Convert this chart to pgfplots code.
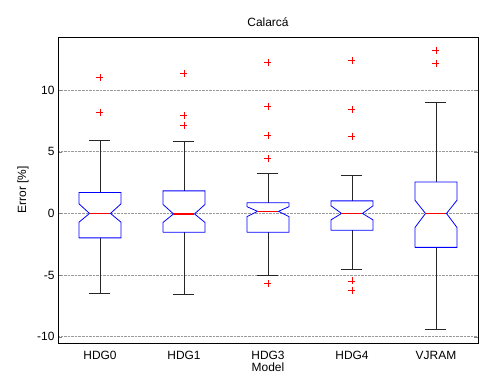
\documentclass[border=0pt]{standalone}
\usepackage{fontspec}
\setmainfont{Liberation Sans}
\usepackage{pgfplots}
\pgfplotsset{compat=1.18}
\definecolor{medred}{RGB}{255,0,0}
\definecolor{boxblue}{RGB}{0,0,255}

\pgfplotsset{
  whisk/.style={black!85, line width=0.6pt, mark=none, unbounded coords=jump},
  nbox/.style={color=boxblue, line width=0.8pt, mark=none},
  med/.style={color=medred, line width=1.4pt, mark=none},
  outl/.style={color=medred, only marks, mark=+, mark size=3.5bp, mark options={line width=0.6pt}},
}

\begin{document}
\begin{tikzpicture}
\path[use as bounding box] (-58bp,-38bp) rectangle (446bp,343bp);
\begin{axis}[
  at={(0,0)}, anchor=south west,
  scale only axis, width=420bp, height=306bp,
  font=\fontsize{12}{14}\selectfont,
  /pgf/number format/assume math mode=true,
  xmin=0.5, xmax=5.5, ymin=-10.5, ymax=14.3,
  xtick={1,2,3,4,5},
  xticklabels={HDG0,HDG1,HDG3,HDG4,VJRAM},
  xtick style={draw=none},
  xticklabel style={anchor=base, yshift=-16bp},
  ytick={-10,-5,0,5,10},
  tick align=inside, major tick length=4bp,
  ytick pos=both,
  ymajorgrids,
  major grid style={gray!80, densely dotted, line width=0.7pt},
  axis line style={line width=0.8pt},
  title={Calarcá},
  title style={at={(axis description cs:0.5,1)}, anchor=base, yshift=5bp},
  xlabel={Model},
  xlabel style={at={(axis description cs:0.5,0)}, anchor=base, yshift=-28bp},
  ylabel={Error [\%]},
  ylabel style={at={(axis description cs:-0.0833,0.5)}, anchor=center},
]
% whiskers with caps
\addplot[whisk] coordinates {(1,1.69) (1,5.93) (nan,nan) (0.875,5.93) (1.125,5.93) (nan,nan)
  (1,-1.98) (1,-6.50) (nan,nan) (0.875,-6.50) (1.125,-6.50)};
\addplot[whisk] coordinates {(2,1.83) (2,5.84) (nan,nan) (1.875,5.84) (2.125,5.84) (nan,nan)
  (2,-1.52) (2,-6.57) (nan,nan) (1.875,-6.57) (2.125,-6.57)};
\addplot[whisk] coordinates {(3,0.86) (3,3.29) (nan,nan) (2.875,3.29) (3.125,3.29) (nan,nan)
  (3,-1.52) (3,-4.98) (nan,nan) (2.875,-4.98) (3.125,-4.98)};
\addplot[whisk] coordinates {(4,1.02) (4,3.08) (nan,nan) (3.875,3.08) (4.125,3.08) (nan,nan)
  (4,-1.37) (4,-4.50) (nan,nan) (3.875,-4.50) (4.125,-4.50)};
\addplot[whisk] coordinates {(5,2.55) (5,9.0) (nan,nan) (4.875,9.0) (5.125,9.0) (nan,nan)
  (5,-2.75) (5,-9.41) (nan,nan) (4.875,-9.41) (5.125,-9.41)};

% notched boxes: Q1, notch low, median, notch high, Q3
\addplot[nbox] coordinates {(0.75,-1.98) (0.75,-0.71) (0.875,0.0) (0.75,0.78) (0.75,1.69)
  (1.25,1.69) (1.25,0.78) (1.125,0.0) (1.25,-0.71) (1.25,-1.98) (0.75,-1.98)};
\addplot[nbox] coordinates {(1.75,-1.52) (1.75,-0.73) (1.875,-0.04) (1.75,0.73) (1.75,1.83)
  (2.25,1.83) (2.25,0.73) (2.125,-0.04) (2.25,-0.73) (2.25,-1.52) (1.75,-1.52)};
\addplot[nbox] coordinates {(2.75,-1.52) (2.75,-0.26) (2.875,0.17) (2.75,0.55) (2.75,0.86)
  (3.25,0.86) (3.25,0.55) (3.125,0.17) (3.25,-0.26) (3.25,-1.52) (2.75,-1.52)};
\addplot[nbox] coordinates {(3.75,-1.37) (3.75,-0.52) (3.875,0.0) (3.75,0.62) (3.75,1.02)
  (4.25,1.02) (4.25,0.62) (4.125,0.0) (4.25,-0.52) (4.25,-1.37) (3.75,-1.37)};
\addplot[nbox] coordinates {(4.75,-2.75) (4.75,-1.14) (4.875,0.0) (4.75,1.07) (4.75,2.55)
  (5.25,2.55) (5.25,1.07) (5.125,0.0) (5.25,-1.14) (5.25,-2.75) (4.75,-2.75)};

% outliers
\addplot[outl] coordinates {(1,11.03) (1,8.22)
  (2,11.35) (2,7.97) (2,7.16)
  (3,12.25) (3,8.70) (3,6.35) (3,4.45) (3,-5.69)
  (4,12.40) (4,8.43) (4,6.27) (4,-5.46) (4,-6.22)
  (5,13.24) (5,12.17)};

% medians
\addplot[med] coordinates {(0.875,0.0) (1.125,0.0)};
\addplot[med] coordinates {(1.875,-0.04) (2.125,-0.04)};
\addplot[med] coordinates {(2.875,0.17) (3.125,0.17)};
\addplot[med] coordinates {(3.875,0.0) (4.125,0.0)};
\addplot[med] coordinates {(4.875,0.0) (5.125,0.0)};
\end{axis}
\end{tikzpicture}
\end{document}
